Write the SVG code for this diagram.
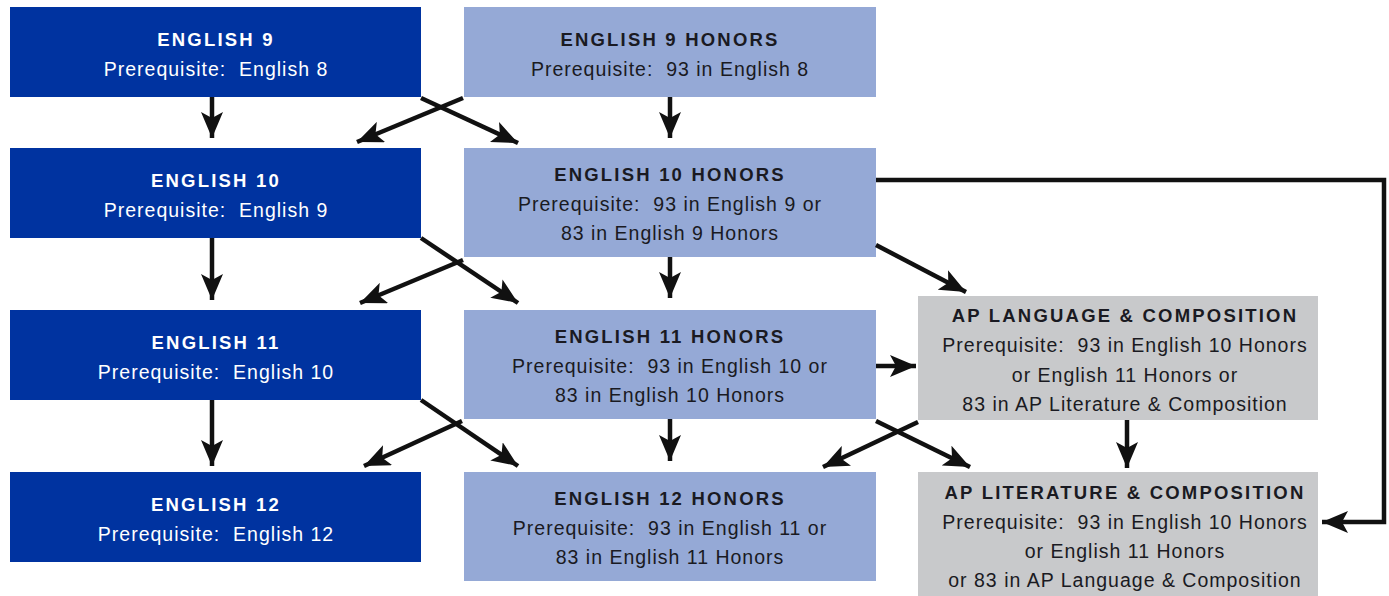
<svg xmlns="http://www.w3.org/2000/svg" width="1389" height="596" viewBox="0 0 1389 596">
<style>
.dk{fill:#0033a0}
.lt{fill:#95a9d6}
.gr{fill:#c8c9cb}
text{font-family:"Liberation Sans",Arial,sans-serif;text-anchor:middle;white-space:pre}
.h{font-weight:bold;font-size:18.5px;letter-spacing:2.2px}
.s{font-size:19.5px;letter-spacing:1px}
.w{fill:#ffffff}
.b{fill:#1a1a22}
.c{fill:none;stroke:#111111;stroke-width:4.5}
</style>
<defs>
<marker id="ah" markerUnits="userSpaceOnUse" markerWidth="26" markerHeight="22" viewBox="0 0 26 22" refX="26" refY="11" orient="auto">
<path d="M0,0 L26,11 L0,22 L6,11 z" fill="#111111"/>
</marker>
</defs>
<g id="english9"><rect class="dk" x="10" y="7" width="411" height="90"/><text class="h w" x="216" y="46">ENGLISH 9</text><text class="s w" x="216" y="76">Prerequisite:  English 8</text></g>
<g id="english10"><rect class="dk" x="10" y="148" width="411" height="90"/><text class="h w" x="216" y="187">ENGLISH 10</text><text class="s w" x="216" y="217">Prerequisite:  English 9</text></g>
<g id="english11"><rect class="dk" x="10" y="310" width="411" height="90"/><text class="h w" x="216" y="349">ENGLISH 11</text><text class="s w" x="216" y="379">Prerequisite:  English 10</text></g>
<g id="english12"><rect class="dk" x="10" y="472" width="411" height="90"/><text class="h w" x="216" y="511">ENGLISH 12</text><text class="s w" x="216" y="541">Prerequisite:  English 12</text></g>
<g id="english9h"><rect class="lt" x="464" y="7" width="412" height="90"/><text class="h b" x="670" y="46">ENGLISH 9 HONORS</text><text class="s b" x="670" y="76">Prerequisite:  93 in English 8</text></g>
<g id="english10h"><rect class="lt" x="464" y="148" width="412" height="109"/><text class="h b" x="670" y="181">ENGLISH 10 HONORS</text><text class="s b" x="670" y="211">Prerequisite:  93 in English 9 or</text><text class="s b" x="670" y="240">83 in English 9 Honors</text></g>
<g id="english11h"><rect class="lt" x="464" y="310" width="412" height="109"/><text class="h b" x="670" y="343">ENGLISH 11 HONORS</text><text class="s b" x="670" y="373">Prerequisite:  93 in English 10 or</text><text class="s b" x="670" y="402">83 in English 10 Honors</text></g>
<g id="english12h"><rect class="lt" x="464" y="472" width="412" height="109"/><text class="h b" x="670" y="505">ENGLISH 12 HONORS</text><text class="s b" x="670" y="535">Prerequisite:  93 in English 11 or</text><text class="s b" x="670" y="564">83 in English 11 Honors</text></g>
<g id="aplang"><rect class="gr" x="918" y="296" width="400" height="124"/><text class="h b" x="1125" y="322">AP LANGUAGE &amp; COMPOSITION</text><text class="s b" x="1125" y="352">Prerequisite:  93 in English 10 Honors</text><text class="s b" x="1125" y="382">or English 11 Honors or</text><text class="s b" x="1125" y="411">83 in AP Literature &amp; Composition</text></g>
<g id="aplit"><rect class="gr" x="918" y="472" width="400" height="124"/><text class="h b" x="1125" y="499">AP LITERATURE &amp; COMPOSITION</text><text class="s b" x="1125" y="529">Prerequisite:  93 in English 10 Honors</text><text class="s b" x="1125" y="558">or English 11 Honors</text><text class="s b" x="1125" y="587">or 83 in AP Language &amp; Composition</text></g>
<g id="connectors">
<line class="c" x1="212" y1="97" x2="212" y2="138" marker-end="url(#ah)"/>
<line class="c" x1="212" y1="238" x2="212" y2="300" marker-end="url(#ah)"/>
<line class="c" x1="212" y1="400" x2="212" y2="466" marker-end="url(#ah)"/>
<line class="c" x1="670" y1="97" x2="670" y2="138" marker-end="url(#ah)"/>
<line class="c" x1="670" y1="257" x2="670" y2="298" marker-end="url(#ah)"/>
<line class="c" x1="670" y1="419" x2="670" y2="461" marker-end="url(#ah)"/>
<line class="c" x1="1127" y1="420" x2="1127" y2="468" marker-end="url(#ah)"/>
<line class="c" x1="421" y1="98" x2="518" y2="143" marker-end="url(#ah)"/>
<line class="c" x1="463" y1="98" x2="357" y2="142" marker-end="url(#ah)"/>
<line class="c" x1="421" y1="238" x2="518" y2="303" marker-end="url(#ah)"/>
<line class="c" x1="463" y1="260" x2="360" y2="303" marker-end="url(#ah)"/>
<line class="c" x1="421" y1="400" x2="518" y2="466" marker-end="url(#ah)"/>
<line class="c" x1="462" y1="421" x2="364" y2="466" marker-end="url(#ah)"/>
<line class="c" x1="876" y1="421" x2="970" y2="467" marker-end="url(#ah)"/>
<line class="c" x1="918" y1="422" x2="823" y2="467" marker-end="url(#ah)"/>
<line class="c" x1="876" y1="245" x2="966" y2="292" marker-end="url(#ah)"/>
<line class="c" x1="876" y1="366" x2="916" y2="366" marker-end="url(#ah)"/>
<polyline class="c" points="876,180 1384,180 1384,522 1322,522" marker-end="url(#ah)"/>
</g>
</svg>
